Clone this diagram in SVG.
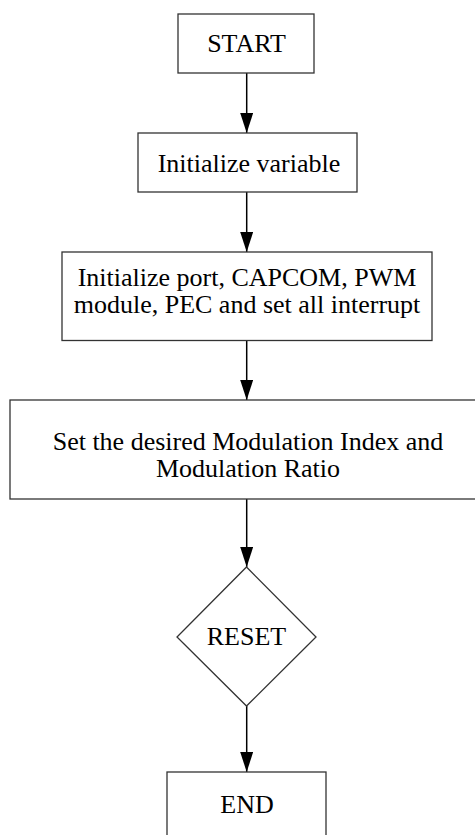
<svg xmlns="http://www.w3.org/2000/svg" width="475" height="835" viewBox="0 0 475 835">
<style>
.box{fill:#fff;stroke:#333;stroke-width:1.3}
.t{font-family:"Liberation Serif","Times New Roman",serif;font-size:26px;fill:#000;text-anchor:middle}
.c{stroke:#000;stroke-width:1.5;fill:none}
</style>
<defs>
<marker id="ah" markerUnits="userSpaceOnUse" markerWidth="20" markerHeight="13" refX="20" refY="6.5" orient="auto">
<path d="M0,0 L20,6.5 L0,13 z" fill="#000"/>
</marker>
</defs>
<rect width="475" height="835" fill="#fff"/>
<g id="connectors">
<line class="c" x1="246.7" y1="73" x2="246.7" y2="133" marker-end="url(#ah)"/>
<line class="c" x1="246.7" y1="192" x2="246.7" y2="252" marker-end="url(#ah)"/>
<line class="c" x1="246.7" y1="340.5" x2="246.7" y2="400" marker-end="url(#ah)"/>
<line class="c" x1="246.7" y1="499" x2="246.7" y2="567" marker-end="url(#ah)"/>
<line class="c" x1="246.7" y1="706" x2="246.7" y2="772" marker-end="url(#ah)"/>
</g>
<g id="start">
<rect class="box" x="178" y="14" width="136" height="59"/>
<text class="t" x="246.5" y="52">START</text>
</g>
<g id="init-var">
<rect class="box" x="138" y="133" width="219" height="59"/>
<text class="t" x="249" y="172">Initialize variable</text>
</g>
<g id="init-port">
<rect class="box" x="62" y="252" width="370" height="88.5"/>
<text class="t" x="247" y="286">Initialize port, CAPCOM, PWM</text>
<text class="t" x="247" y="313">module, PEC and set all interrupt</text>
</g>
<g id="set-mod">
<rect class="box" x="10" y="400" width="474" height="99"/>
<text class="t" x="248" y="450">Set the desired Modulation Index and</text>
<text class="t" x="248" y="477">Modulation Ratio</text>
</g>
<g id="reset">
<polygon class="box" points="246.5,567 316,637 246.5,706 177,637"/>
<text class="t" x="246.5" y="645">RESET</text>
</g>
<g id="end">
<rect class="box" x="167" y="772" width="159" height="80"/>
<text class="t" x="247" y="813">END</text>
</g>
</svg>
